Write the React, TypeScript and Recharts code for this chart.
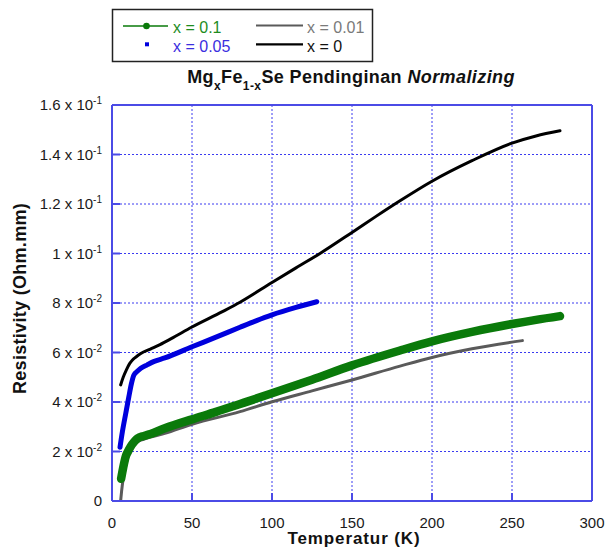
import { LineChart, Line, XAxis, YAxis, CartesianGrid } from "recharts";

// x = 0.1 (green)
const X01_T = [5.7, 7, 8.6, 10, 11.7, 14, 16, 20, 24, 33, 50, 65, 80, 100, 125, 150, 180, 200, 225, 250, 265, 280];
const X01_R = [0.009, 0.0135, 0.018, 0.02, 0.022, 0.024, 0.0253, 0.0263, 0.0271, 0.0294, 0.033, 0.036, 0.0392, 0.0435, 0.049, 0.0548, 0.0608, 0.0645, 0.0683, 0.0715, 0.0732, 0.0747];

// x = 0.01 (grey)
const X001_T = [5.4, 6, 7, 8.5, 10, 12, 15, 20, 33, 50, 80, 100, 125, 150, 180, 200, 225, 256.5];
const X001_R = [0, 0.004, 0.009, 0.014, 0.018, 0.021, 0.0235, 0.025, 0.0273, 0.031, 0.0361, 0.0401, 0.0445, 0.0489, 0.0545, 0.058, 0.0615, 0.0648];

// x = 0.05 (blue)
const X005_T = [5, 6.5, 8.6, 10.5, 12, 13.7, 16, 18, 22, 26, 33, 50, 65, 80, 90, 100, 115, 128];
const X005_R = [0.0217, 0.028, 0.0354, 0.042, 0.047, 0.0509, 0.0525, 0.0536, 0.055, 0.0563, 0.0578, 0.0623, 0.0662, 0.0702, 0.0728, 0.0752, 0.0782, 0.0805];

// x = 0 (black)
const X0_T = [5.4, 7, 9, 11, 12.8, 15, 18, 24, 30, 37, 50, 69, 80, 100, 115, 130, 150, 165, 180, 200, 225, 250, 265, 280];
const X0_R = [0.0469, 0.05, 0.053, 0.0555, 0.057, 0.0582, 0.0596, 0.0614, 0.0632, 0.0656, 0.0703, 0.0765, 0.0803, 0.0883, 0.0942, 0.1, 0.1085, 0.115, 0.1213, 0.1292, 0.1375, 0.1446, 0.1475, 0.1496];

const X_TICKS = [0, 50, 100, 150, 200, 250, 300];
const Y_TICKS = [0, 0.02, 0.04, 0.06, 0.08, 0.1, 0.12, 0.14, 0.16];
const Y_MANTISSA = ["0", "2", "4", "6", "8", "1", "1.2", "1.4", "1.6"];
const Y_EXPONENT = ["", "-2", "-2", "-2", "-2", "-1", "-1", "-1", "-1"];

const FONT = "'Liberation Sans', Arial, sans-serif";
const AXIS_BLUE = "#4b4be6";
const GRID_BLUE = "#3a3af0";

const pts = (t: number[], r: number[]) => t.map((v, i) => ({ t: v, r: r[i] }));

function YTick({ x, y, payload }: any) {
  const i = Y_TICKS.indexOf(payload.value);
  const m = Y_MANTISSA[i] ?? "";
  const e = Y_EXPONENT[i] ?? "";
  return (
    <text x={x} y={y + 5} textAnchor="end" fontSize={15} fill="#1a1a1a" fontFamily={FONT}>
      {e ? (
        <>
          <tspan>{m} x 10</tspan>
          <tspan dy={-6} fontSize={10}>{e}</tspan>
        </>
      ) : (
        m
      )}
    </text>
  );
}

export default function App() {
  return (
    <div style={{ position: "absolute", left: 0, top: 0, width: 606, height: 553, background: "#fff" }}>
      <LineChart width={606} height={553} margin={{ top: 104, right: 13, bottom: 0, left: 12 }}>
        <CartesianGrid stroke={GRID_BLUE} strokeDasharray="2 2" />
        <XAxis
          dataKey="t"
          type="number"
          domain={[0, 300]}
          ticks={X_TICKS}
          allowDataOverflow
          height={52}
          axisLine={{ stroke: AXIS_BLUE, strokeWidth: 2 }}
          tickLine={{ stroke: AXIS_BLUE, strokeWidth: 2 }}
          tickSize={-8}
          tickMargin={24}
          tick={{ fontSize: 15, fill: "#1a1a1a", fontFamily: FONT }}
        />
        <XAxis
          xAxisId="top"
          orientation="top"
          type="number"
          domain={[0, 300]}
          ticks={X_TICKS}
          height={1}
          axisLine={{ stroke: AXIS_BLUE, strokeWidth: 2 }}
          tickLine={{ stroke: AXIS_BLUE, strokeWidth: 2 }}
          tickSize={-8}
          tick={false}
        />
        <YAxis
          type="number"
          domain={[0, 0.16]}
          ticks={Y_TICKS}
          allowDataOverflow
          width={100}
          axisLine={{ stroke: AXIS_BLUE, strokeWidth: 2 }}
          tickLine={{ stroke: AXIS_BLUE, strokeWidth: 2 }}
          tickSize={-8}
          tickMargin={18}
          tick={<YTick />}
        />
        <YAxis
          yAxisId="right"
          orientation="right"
          type="number"
          domain={[0, 0.16]}
          ticks={Y_TICKS}
          width={1}
          axisLine={{ stroke: AXIS_BLUE, strokeWidth: 2 }}
          tickLine={{ stroke: AXIS_BLUE, strokeWidth: 2 }}
          tickSize={-8}
          tick={false}
        />
        <Line data={pts(X001_T, X001_R)} dataKey="r" type="monotone" stroke="#5a5a5a" strokeWidth={3} dot={false} strokeLinecap="round" isAnimationActive={false} />
        <Line data={pts(X01_T, X01_R)} dataKey="r" type="monotone" stroke="#0a7a0a" strokeWidth={8.5} dot={false} strokeLinecap="round" strokeLinejoin="round" isAnimationActive={false} />
        <Line data={pts(X005_T, X005_R)} dataKey="r" type="monotone" stroke="#0000dd" strokeWidth={5} dot={false} strokeLinecap="round" strokeLinejoin="round" isAnimationActive={false} />
        <Line data={pts(X0_T, X0_R)} dataKey="r" type="monotone" stroke="#000" strokeWidth={3} dot={false} strokeLinecap="round" isAnimationActive={false} />
      </LineChart>

      <svg width={606} height={553} style={{ position: "absolute", left: 0, top: 0, pointerEvents: "none" }} fontFamily={FONT}>
        {/* legend box */}
        <rect x={112.5} y={9.5} width={260} height={52} fill="#fff" stroke="#222" strokeWidth={1.5} />
        <line x1={123} y1={26} x2={168} y2={26} stroke="#0a7a0a" strokeWidth={1.3} />
        <circle cx={146.5} cy={26} r={3.3} fill="#0a7a0a" />
        <text x={173} y={32.5} fontSize={16} fill="#1e8c1e">x = 0.1</text>
        <rect x={145} y={42.3} width={4} height={4} fill="#0000dd" />
        <text x={173} y={51.5} fontSize={16} fill="#3a2ee0">x = 0.05</text>
        <line x1={256} y1={25.5} x2={303} y2={25.5} stroke="#5a5a5a" strokeWidth={2.2} />
        <text x={307} y={32.5} fontSize={16} fill="#7a7a7a">x = 0.01</text>
        <line x1={256} y1={44.3} x2={303} y2={44.3} stroke="#000" strokeWidth={2.2} />
        <text x={307} y={51.5} fontSize={16} fill="#111">x = 0</text>

        {/* title */}
        <text x={351} y={83} fontSize={18} letterSpacing={0.4} fontWeight="bold" textAnchor="middle" fill="#111">
          <tspan>Mg</tspan>
          <tspan dy={7} fontSize={12}>x</tspan>
          <tspan dy={-7}>Fe</tspan>
          <tspan dy={7} fontSize={12}>1-x</tspan>
          <tspan dy={-7}>Se Pendinginan </tspan>
          <tspan fontStyle="italic">Normalizing</tspan>
        </text>

        {/* axis titles */}
        <text x={354} y={544} fontSize={17} letterSpacing={0.9} fontWeight="bold" textAnchor="middle" fill="#111">Temperatur (K)</text>
        <text x={26} y={298.5} fontSize={18} letterSpacing={0.3} fontWeight="bold" textAnchor="middle" fill="#111" transform="rotate(-90 26 298.5)">Resistivity (Ohm.mm)</text>
      </svg>
    </div>
  );
}
